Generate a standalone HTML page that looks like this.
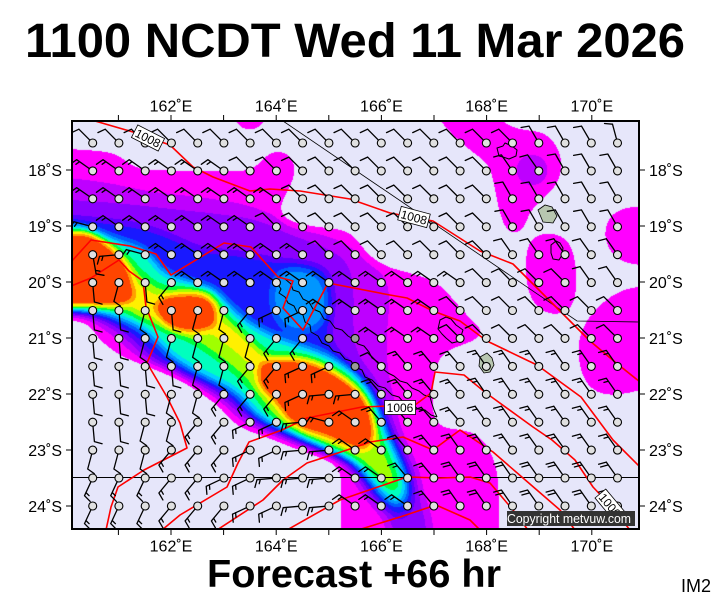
<!DOCTYPE html>
<html><head><meta charset="utf-8"><title>chart</title>
<style>
html,body{margin:0;padding:0;background:#fff}
body{width:711px;height:600px;position:relative;overflow:hidden}
#c{position:absolute;left:71px;top:120px;width:569px;height:410px}
#s{position:absolute;left:0;top:0}
text{font-family:"Liberation Sans",Arial,sans-serif}
</style></head><body>
<canvas id="c" width="569" height="410"></canvas>
<svg id="s" width="711" height="600" xmlns="http://www.w3.org/2000/svg">
<defs><clipPath id="fr"><rect x="72" y="121" width="567" height="408"/></clipPath></defs>
<g clip-path="url(#fr)">
 <path d="M283 121 L577 321 L640 322" stroke="#000" stroke-width="0.8" fill="none"/>
 <path d="M72 477.5 H639" stroke="#000" stroke-width="1" fill="none"/>
 <g stroke="#000" stroke-width="1" fill="none" stroke-linejoin="round">
  <path d="M277 283 L281 289 L279 293 L285 297 L288 303 L294 306 L297 312 L303 315 L305 322 L310 325 L311 332 L318 336 L322 343 L329 346 L333 351 L340 353 L345 359 L351 361 L355 367 L362 370 L365 377 L372 380 L378 386 L385 388 L392 395 L399 397 L404 403 L412 404 L418 409 L425 410 L431 415 L437 417"/>
  <path d="M285 279 L291 284 L293 290 L299 292 L303 299 L309 302 L313 309 L320 312 L324 319 L330 321 L335 328 L342 330 L348 336 L353 339 L358 344 L364 346 L369 352 L372 358 L378 362 L383 369 L388 373 L394 376 L400 381 L407 383 L412 388 L419 391 L424 395 L430 397 L432 404 L434 410 L437 417"/>
  <path d="M440 320 L446 317 L451 319 L456 325 L463 330 L461 336 L460 341 L452 343 L446 338 L442 334 L438 329 Z"/>
  <path d="M497 148 L503 146 L505 143 L512 146 L517 150 L516 156 L509 159 L503 157 L499 156 Z"/>
  <path d="M551 245 L556 241 L560 243 L563 248 L562 255 L559 260 L553 259 L551 253 Z"/>
 </g>
 <path d="M480 357 L487 353 L492 358 L494 365 L490 372 L484 373 L479 366 Z" fill="#b8c6b0" stroke="#000" stroke-width="0.8"/>
 <path d="M538 210 L545 205 L552 207 L557 216 L553 223 L543 222 Z" fill="#b8c6b0" stroke="#000" stroke-width="0.8"/>
 <g stroke="#f00" stroke-width="1.6" fill="none" stroke-linejoin="round">
  <polyline points="95,121 133,132 170,145 193,167 213,177 250,191 270,189 300,191 350,199 390,213 433,221 480,251 513,264 547,298 567,318 590,341 615,362 640,382"/>
  <polyline points="71,262 91,240 130,246 156,254 171,275 224,243 251,247 278,277 293,281 283,308 303,330 328,283 390,295 407,298 433,311 460,321 487,341 537,365 581,397 613,440 640,467"/>
  <polyline points="71,286 91,278 119,260 129,271 143,281 146,307 158,337 147,363 167,397 180,423 187,448 144,470 118,487 111,507 106,530"/>
  <polyline points="162,530 180,515 227,487 238,463 249,442 282,430 307,418 362,407 415,405 431,393 435,372 464,375 486,393 533,427 552,440 575,460 593,487 610,505 630,530"/>
  <polyline points="217,530 263,500 283,480 307,463 347,450 370,442 403,437 433,450 460,430 493,452 523,478 560,510 575,530"/>
  <polyline points="287,530 340,500 407,477 440,478 470,477 490,483 513,510 528,530"/>
  <polyline points="358,530 400,517 436,505 470,520 480,530"/>
 </g>
 <g id="barbs"></g>
 <g font-size="12" fill="#000">
  <g transform="translate(148,138) rotate(27)"><rect x="-15" y="-7" width="30" height="14" fill="#fff" stroke="#000" stroke-width="0.8"/><text x="0" y="4.5" text-anchor="middle">1008</text></g>
  <g transform="translate(414,217) rotate(15)"><rect x="-15" y="-7" width="30" height="14" fill="#fff" stroke="#000" stroke-width="0.8"/><text x="0" y="4.5" text-anchor="middle">1008</text></g>
  <g transform="translate(400,407.5)"><rect x="-15.5" y="-7" width="31" height="14" fill="#fff" stroke="#000" stroke-width="0.8"/><text x="0" y="4.5" text-anchor="middle">1006</text></g>
  <g transform="translate(610,505) rotate(50)"><rect x="-15" y="-7" width="30" height="14" fill="#fff" stroke="#000" stroke-width="0.8"/><text x="0" y="4.5" text-anchor="middle">1006</text></g>
 </g>
 <rect x="507" y="511" width="128" height="15" fill="#333"/>
 <text x="507" y="523" font-size="12.5" fill="#fff" textLength="124" lengthAdjust="spacingAndGlyphs">Copyright metvuw.com</text>
</g>
<rect x="72" y="121" width="567" height="408" fill="none" stroke="#000" stroke-width="2"/>
<g stroke="#000" stroke-width="1">
 <path d="M118.4 115V121M171 115V121M223.6 115V121M276.2 115V121M328.8 115V121M381.4 115V121M434 115V121M486.6 115V121M539.2 115V121M591.8 115V121"/>
 <path d="M118.4 529V535M171 529V535M223.6 529V535M276.2 529V535M328.8 529V535M381.4 529V535M434 529V535M486.6 529V535M539.2 529V535M591.8 529V535"/>
 <path d="M66 170H72M66 226H72M66 282H72M66 338H72M66 394H72M66 450H72M66 506H72"/>
 <path d="M639 170H645M639 226H645M639 282H645M639 338H645M639 394H645M639 450H645M639 506H645"/>
</g>
<g font-size="16" fill="#000" text-anchor="middle">
 <text x="171" y="111.5">162˚E</text><text x="276.2" y="111.5">164˚E</text><text x="381.4" y="111.5">166˚E</text><text x="486.6" y="111.5">168˚E</text><text x="591.8" y="111.5">170˚E</text>
 <text x="171" y="551.5">162˚E</text><text x="276.2" y="551.5">164˚E</text><text x="381.4" y="551.5">166˚E</text><text x="486.6" y="551.5">168˚E</text><text x="591.8" y="551.5">170˚E</text>
</g>
<g font-size="16" fill="#000" text-anchor="end">
 <text x="62" y="176">18˚S</text><text x="62" y="232">19˚S</text><text x="62" y="288">20˚S</text><text x="62" y="344">21˚S</text><text x="62" y="400">22˚S</text><text x="62" y="456">23˚S</text><text x="62" y="512">24˚S</text>
</g>
<g font-size="16" fill="#000">
 <text x="649" y="176">18˚S</text><text x="649" y="232">19˚S</text><text x="649" y="288">20˚S</text><text x="649" y="344">21˚S</text><text x="649" y="400">22˚S</text><text x="649" y="456">23˚S</text><text x="649" y="512">24˚S</text>
</g>
<text x="25" y="57" font-size="48" font-weight="bold" textLength="660" lengthAdjust="spacingAndGlyphs">1100 NCDT Wed 11 Mar 2026</text>
<text x="207" y="587" font-size="39" font-weight="bold" textLength="294" lengthAdjust="spacingAndGlyphs">Forecast +66 hr</text>
<text x="681" y="592" font-size="18">IM2</text>
</svg>
<script>
(function(){
const W=569,H=410,OX=71,OY=120,M=30,FW=W+2*M,FH=H+2*M;
const F=new Float32Array(FW*FH);
const off=document.createElement('canvas');off.width=FW;off.height=FH;
const oc=off.getContext('2d');
function add(a,inc){
 oc.setTransform(1,0,0,1,0,0);oc.clearRect(0,0,FW,FH);
 oc.setTransform(1,0,0,1,M-OX,M-OY);
 const n=a.length/2;const P=i=>[a[2*(i%n)],a[2*(i%n)+1]];
 oc.beginPath();
 let p=P(n-1),q=P(0);oc.moveTo((p[0]+q[0])/2,(p[1]+q[1])/2);
 for(let i=0;i<n;i++){p=P(i);q=P(i+1);oc.quadraticCurveTo(p[0],p[1],(p[0]+q[0])/2,(p[1]+q[1])/2);}
 oc.closePath();oc.fillStyle='#fff';oc.fill();
 const d=oc.getImageData(0,0,FW,FH).data;
 for(let i=0;i<F.length;i++){const v=d[i*4+3];if(v)F[i]+=inc*v/255;}
}
// magenta
add([40,148,71,149,115,152,126,162,140,170,200,171,245,172,258,166,266,155,279,150,292,156,296,172,289,189,281,202,280,215,288,226,310,228,345,229,358,240,366,255,383,266,410,273,437,281,458,305,473,322,486,332,472,342,446,350,435,365,432,392,434,428,470,430,485,441,497,465,499,500,499,560,339,560,342,490,340,466,326,454,292,443,275,434,242,428,230,418,221,405,201,392,191,382,178,372,151,365,124,358,108,347,95,335,91,323,71,315,40,315],2);
add([425,100,492,100,502,124,522,130,545,132,557,145,563,165,557,186,541,200,529,212,523,233,508,234,500,215,495,190,490,164,472,152,452,135,440,120],2);
add([530,237,550,232,567,238,575,256,577,285,573,309,555,316,537,309,527,290,525,260],2);
add([605,300,625,288,660,285,660,385,630,393,605,396,586,386,578,360,579,335,590,315],2);
add([615,208,660,205,660,265,626,265,609,252,603,230],2);
add([230,105,268,105,263,127,250,131,237,127],2);
add([532,153,545,158,549,170,545,182,532,187,519,182,515,170,519,158],2);
// purple
add([40,176,71,178,110,183,150,192,200,197,240,203,268,212,292,225,320,233,348,244,368,262,385,275,390,295,388,320,386,345,388,372,394,400,398,430,410,453,418,470,422,490,427,505,432,520,434,560,390,560,386,520,372,505,356,485,346,464,330,455,290,443,250,428,235,415,211,392,190,380,165,370,138,358,114,335,91,319,71,314,40,314],2);
// violet
add([40,198,71,200,120,203,170,209,220,214,260,220,290,235,320,245,343,257,352,273,354,300,353,330,356,352,370,372,384,392,394,420,404,445,412,465,417,485,421,505,427,520,428,560,396,560,392,520,377,505,362,485,350,466,336,456,300,443,258,425,240,412,215,392,175,372,145,358,124,335,95,317,71,313,40,313],2);
// blue
add([40,216,71,218,120,222,150,228,180,240,200,250,240,253,271,260,300,262,326,268,333,290,331,320,328,338,342,360,368,380,380,405,388,428,400,450,410,472,414,490,412,508,402,518,395,516,381,505,367,485,354,466,342,458,305,445,265,428,245,413,221,392,185,376,154,358,132,335,100,316,71,312,40,312],4);
add([276,272,300,266,322,276,330,300,323,326,300,334,279,326,270,300],4);
// cyan
add([40,222,71,224,91,229,110,238,138,246,152,256,162,272,185,280,211,288,225,300,240,316,258,328,278,338,305,346,330,356,354,370,370,390,380,412,388,435,398,456,406,478,407,496,398,505,390,502,373,485,360,468,348,460,310,442,280,428,255,415,238,392,200,374,172,358,151,335,130,322,100,312,71,310,40,310],8);
// yellow-green
add([40,230,71,230,93,231,112,244,125,256,140,272,155,285,170,290,195,287,213,290,220,303,226,316,240,330,255,345,268,355,304,355,331,366,354,382,370,400,376,420,381,440,390,460,397,478,398,488,390,490,378,478,362,463,340,450,315,442,290,430,270,415,255,392,240,375,218,358,200,345,181,335,160,328,140,318,120,308,100,307,71,307,40,307],4);
// yellow corridors
add([205,322,225,320,245,335,262,352,268,362,258,372,245,360,228,345,212,335],2);
add([128,290,145,285,160,300,158,318,140,315,128,305],2);
// red
add([40,236,71,235,81,232,95,236,113,250,124,262,132,280,133,293,129,303,115,306,95,305,71,306,40,306],8);
add([159,299,170,296,191,294,208,297,217,310,215,323,204,331,181,331,164,324,156,310],8);
add([258,372,262,364,272,360,304,360,331,371,354,387,367,402,372,418,374,437,367,449,356,448,338,441,320,433,306,431,296,424,286,417,279,404,268,394,260,386],8);
function blur(a,w,h,r){
 const t=new Float32Array(a.length),n=2*r+1;
 for(let y=0;y<h;y++){const row=y*w;let s=0;
  for(let x=-r;x<=r;x++)s+=a[row+Math.min(w-1,Math.max(0,x))];
  for(let x=0;x<w;x++){t[row+x]=s/n;s+=a[row+Math.min(w-1,x+r+1)]-a[row+Math.max(0,x-r)];}}
 for(let x=0;x<w;x++){let s=0;
  for(let y=-r;y<=r;y++)s+=t[Math.min(h-1,Math.max(0,y))*w+x];
  for(let y=0;y<h;y++){a[y*w+x]=s/n;s+=t[Math.min(h-1,y+r+1)*w+x]-t[Math.max(0,y-r)*w+x];}}
}
for(let k=0;k<3;k++)blur(F,FW,FH,4);
const T=[1,3,5,7,9,11,13,15,17,19,21,23,25,27];
const COL=[[230,230,250],[255,0,255],[190,0,255],[140,0,255],[90,0,255],[25,25,255],[0,90,255],[0,150,255],[0,210,255],[0,255,190],[0,255,60],[160,255,0],[255,240,0],[255,160,0],[255,69,0]];
const ctx=document.getElementById('c').getContext('2d');
const img=ctx.createImageData(W,H);const D=img.data;
for(let y=0;y<H;y++)for(let x=0;x<W;x++){const f=F[(y+M)*FW+x+M];let k=0;while(k<14&&f>=T[k])k++;const c=COL[k];const o=(y*W+x)*4;D[o]=c[0];D[o+1]=c[1];D[o+2]=c[2];D[o+3]=255;}
ctx.putImageData(img,0,0);
// barbs
const P={a:[315,10],b:[305,15],c:[285,15],d:[330,10],e:[320,15],f:[175,10],g:[195,10],h:[220,15],i:[245,15],j:[265,15],l:[325,20],m:[170,15],p:[345,10],q:[325,10],r:[325,15],s:[205,15]};
const rows=["aaaaaaaaaaaaaaaaadddp","bbbbbbaaaaaaaaaaqqddd","bbbbbbbbaaaaaaaaddddd","cbbbbbbaaaaaaaaaddddd","mjcbbbbbbaaaaaaaqqqqq","fgfhbbbbbbbbbbbaaaaqq","ffgfgghiibbbbbaaaaaaa","ffggggghhnnbbbaaaaaaa","ffffgghhiinaeeerrrrrr","fffgghhhijjeeeerrrrrr","ffgghhiijcbeeeerrrrrr","ggghhhiijjbbeerrrrrrr","ssshhiijjjbbeelllllll","ssshhhiijjbbbelllllll"];
let lines='',circ='';const th=70*Math.PI/180;const R=4;
for(let j=0;j<14;j++)for(let i=0;i<21;i++){
 const x=92.7+26.24*i,y=143+27.92*j;const ch=rows[j][i]||'a';
 if(ch==='n'){circ+='<circle cx="'+x.toFixed(1)+'" cy="'+y.toFixed(1)+'" r="'+R+'" fill="#999" stroke="#000" stroke-width="1.1"/>';continue;}
 const B=P[ch][0]*Math.PI/180,S=P[ch][1];const dx=Math.sin(B),dy=-Math.cos(B);
 const tx=x+dx*19.5,ty=y+dy*19.5;
 let d='M'+(x+dx*R).toFixed(1)+' '+(y+dy*R).toFixed(1)+'L'+tx.toFixed(1)+' '+ty.toFixed(1);
 const lx=dy,ly=-dx;const fx=Math.cos(th)*dx+Math.sin(th)*lx,fy=Math.cos(th)*dy+Math.sin(th)*ly;
 const nf=Math.floor(S/10),half=(S%10)>=5;let pos=0;
 for(let k=0;k<nf;k++){const bx=tx-dx*pos,by=ty-dy*pos;d+='M'+bx.toFixed(1)+' '+by.toFixed(1)+'l'+(fx*8).toFixed(1)+' '+(fy*8).toFixed(1);pos+=3.5;}
 if(half){if(nf===0)pos=3.5;const bx=tx-dx*pos,by=ty-dy*pos;d+='M'+bx.toFixed(1)+' '+by.toFixed(1)+'l'+(fx*4.5).toFixed(1)+' '+(fy*4.5).toFixed(1);}
 lines+='<path d="'+d+'"/>';
 circ+='<circle cx="'+x.toFixed(1)+'" cy="'+y.toFixed(1)+'" r="'+R+'" fill="#e0e0e0" stroke="#000" stroke-width="1.1"/>';
}
document.getElementById('barbs').innerHTML='<g stroke="#000" stroke-width="1.3" fill="none" stroke-linecap="round" stroke-linejoin="round">'+lines+'</g>'+circ;
})();
</script>
</body></html>
